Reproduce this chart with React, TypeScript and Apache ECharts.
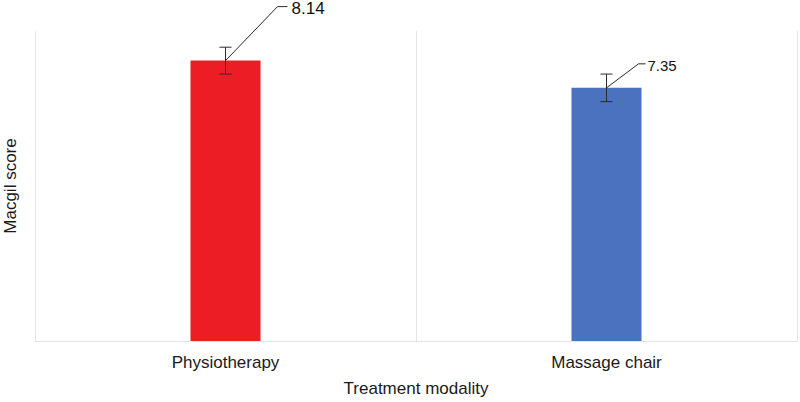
import React, { useEffect, useRef } from "react";
import * as echarts from "echarts";

const categories = ["Physiotherapy", "Massage chair"];
const meanScores = [8.14, 7.35];
const errorMargins = [0.39, 0.4];
const valueLabels = ["8.14", "7.35"];
const barColors = ["#EC1D25", "#4A72BE"];
const yMin = 0;
const yMax = 9;

const FONT = "'Liberation Sans', Arial, Helvetica, sans-serif";

// pixel layout of the leader lines (style, not data)
const leaderLayout = [
  { dx: 52, dy: -54, h: 10, gap: 4, fs: 17 },
  { dx: 32, dy: -24, h: 7, gap: 2, fs: 15 },
];

export default function App() {
  const ref = useRef<HTMLDivElement>(null);

  useEffect(() => {
    if (!ref.current) return;
    const chart = echarts.init(ref.current, undefined, { renderer: "svg" });

    const overlayData = categories.map((_, i) => [i, meanScores[i], errorMargins[i]]);

    chart.setOption({
      animation: false,
      backgroundColor: "#ffffff",
      grid: { left: 35, right: 3, top: 31, bottom: 61, containLabel: false, outerBoundsMode: "none" },
      xAxis: {
        type: "category",
        data: categories,
        boundaryGap: true,
        name: "Treatment modality",
        nameLocation: "middle",
        nameGap: 39,
        nameTextStyle: { fontFamily: FONT, fontSize: 17, color: "#1a1a1a" },
        axisLine: { show: true, lineStyle: { color: "#e4e4e4", width: 1 } },
        axisTick: { show: false },
        axisLabel: { fontFamily: FONT, fontSize: 17, color: "#1a1a1a", margin: 13 },
        splitLine: { show: true, interval: 0, lineStyle: { color: "#e4e4e4", width: 1 } },
      },
      yAxis: {
        type: "value",
        min: yMin,
        max: yMax,
        name: "Macgil score",
        nameLocation: "middle",
        nameGap: 16,
        nameTextStyle: { fontFamily: FONT, fontSize: 17, color: "#1a1a1a" },
        axisLine: { show: false },
        axisTick: { show: false },
        axisLabel: { show: false },
        splitLine: { show: false },
      },
      series: [
        {
          type: "bar",
          barWidth: 70,
          data: meanScores.map((v, i) => ({ value: v, itemStyle: { color: barColors[i] } })),
          z: 2,
        },
        {
          type: "custom",
          clip: false,
          z: 5,
          data: overlayData,
          renderItem: (params: any, api: any) => {
            const idx = api.value(0);
            const mean = api.value(1);
            const err = api.value(2);
            const top = api.coord([idx, mean + err]);
            const bot = api.coord([idx, mean - err]);
            const center = api.coord([idx, mean]);
            const capHalf = 6;
            const L = leaderLayout[params.dataIndex] || leaderLayout[0];
            const ex = center[0] + L.dx;
            const ey = center[1] + L.dy;
            const lineStyle = { stroke: "#2a2a2a", lineWidth: 1, fill: "none" };
            return {
              type: "group",
              children: [
                { type: "line", shape: { x1: top[0], y1: top[1], x2: bot[0], y2: bot[1] }, style: lineStyle },
                { type: "line", shape: { x1: top[0] - capHalf, y1: top[1], x2: top[0] + capHalf, y2: top[1] }, style: lineStyle },
                { type: "line", shape: { x1: bot[0] - capHalf, y1: bot[1], x2: bot[0] + capHalf, y2: bot[1] }, style: lineStyle },
                {
                  type: "polyline",
                  shape: { points: [[center[0], center[1]], [ex, ey], [ex + L.h, ey]] },
                  style: lineStyle,
                },
                {
                  type: "text",
                  x: ex + L.h + L.gap,
                  y: ey + 2,
                  style: {
                    text: valueLabels[params.dataIndex],
                    fontFamily: FONT,
                    fontSize: L.fs,
                    fill: "#111111",
                    align: "left",
                    verticalAlign: "middle",
                  },
                },
              ],
            };
          },
        },
      ],
    });

    return () => chart.dispose();
  }, []);

  return (
    <div
      ref={ref}
      style={{ position: "fixed", left: 0, top: 0, width: 800, height: 402 }}
    />
  );
}
